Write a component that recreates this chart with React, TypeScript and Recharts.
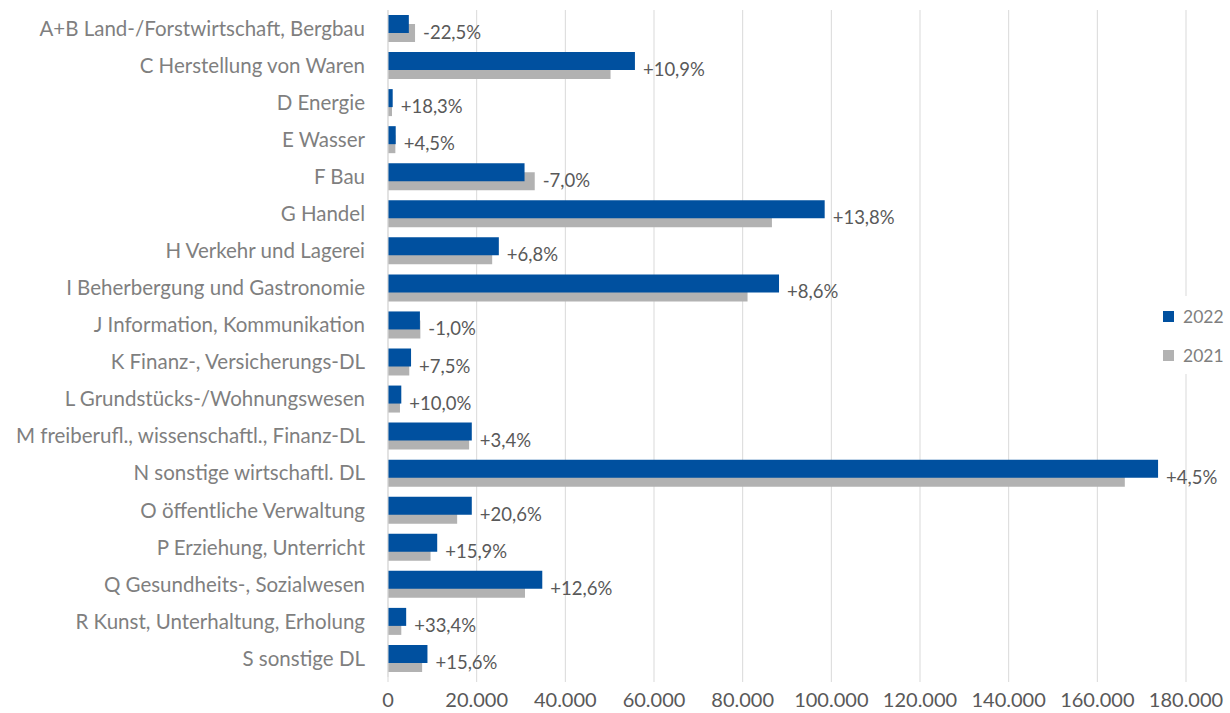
import { BarChart, Bar, XAxis, YAxis, CartesianGrid, LabelList } from 'recharts'

const categories = [
  'A+B Land-/Forstwirtschaft, Bergbau',
  'C Herstellung von Waren',
  'D Energie',
  'E Wasser',
  'F Bau',
  'G Handel',
  'H Verkehr und Lagerei',
  'I Beherbergung und Gastronomie',
  'J Information, Kommunikation',
  'K Finanz-, Versicherungs-DL',
  'L Grundstücks-/Wohnungswesen',
  'M freiberufl., wissenschaftl., Finanz-DL',
  'N sonstige wirtschaftl. DL',
  'O öffentliche Verwaltung',
  'P Erziehung, Unterricht',
  'Q Gesundheits-, Sozialwesen',
  'R Kunst, Unterhaltung, Erholung',
  'S sonstige DL',
]

const values2022 = [4700, 55700, 1060, 1740, 30800, 98500, 25000, 88200, 7200, 5200, 3000, 18900, 173700, 18900, 11100, 34800, 4100, 8900]
const values2021 = [6100, 50200, 900, 1660, 33100, 86600, 23500, 81100, 7300, 4800, 2700, 18300, 166200, 15600, 9600, 30900, 3000, 7700]
const changes = ['-22,5%', '+10,9%', '+18,3%', '+4,5%', '-7,0%', '+13,8%', '+6,8%', '+8,6%', '-1,0%', '+7,5%', '+10,0%', '+3,4%', '+4,5%', '+20,6%', '+15,9%', '+12,6%', '+33,4%', '+15,6%']

const xTicks = [0, 20000, 40000, 60000, 80000, 100000, 120000, 140000, 160000, 180000]

const data = categories.map((name, i) => ({
  name,
  v2022: values2022[i],
  v2021: values2021[i],
  change: changes[i],
}))

const BLUE = '#00509F'
const GREY = '#B2B2B2'
const FONT = 'Lato, "Open Sans", sans-serif'

function fmt(v: number) {
  return String(v).replace(/\B(?=(\d{3})+(?!\d))/g, '.')
}

// label sits after the longer of the two bars
function ChangeLabel(props: any) {
  const vb = props.viewBox ?? props
  const { x, y, width, height } = vb
  const row = data[props.index]
  if (!row) return null
  const end = x + (width * Math.max(row.v2022, row.v2021)) / row.v2022
  return (
    <text x={end + 8} y={y + height - 1} dominantBaseline="central" fill="#595959" fontSize={18.5} fontFamily={FONT}>
      {row.change}
    </text>
  )
}

export default function App() {
  return (
    <div style={{ position: 'absolute', left: 0, top: 0, width: 1230, height: 713, background: '#fff' }}>
      <BarChart
        width={1230}
        height={713}
        data={data}
        layout="vertical"
        margin={{ top: 10, right: 44, left: 0, bottom: 0 }}
        barSize={18}
        barGap={-27}
      >
        <CartesianGrid horizontal={false} stroke="#D9D9D9" />
        <XAxis
          type="number"
          domain={[0, 180000]}
          ticks={xTicks}
          tickFormatter={fmt}
          axisLine={false}
          tickLine={{ stroke: '#D9D9D9' }}
          tickSize={5}
          tickMargin={11}
          height={36}
          tick={{ fill: '#595959', fontSize: 20, fontFamily: FONT }}
        />
        <YAxis
          type="category"
          dataKey="name"
          width={388}
          interval={0}
          axisLine={{ stroke: '#D9D9D9' }}
          tickLine={false}
          tickSize={5}
          tickMargin={18}
          tick={{ fill: '#7F7F7F', fontSize: 20.5, fontFamily: FONT }}
        />
        <Bar dataKey="v2021" name="2021" fill={GREY} isAnimationActive={false} />
        <Bar dataKey="v2022" name="2022" fill={BLUE} isAnimationActive={false}>
          <LabelList dataKey="change" content={ChangeLabel} />
        </Bar>
      </BarChart>
      <div
        style={{
          position: 'absolute',
          left: 1156,
          top: 296,
          width: 74,
          height: 78,
          background: '#fff',
          fontFamily: FONT,
          fontSize: 17.5,
          color: '#7F7F7F',
        }}
      >
        {[
          { label: '2022', color: BLUE },
          { label: '2021', color: GREY },
        ].map((item, i) => (
          <div key={item.label} style={{ position: 'absolute', left: 7, top: 10 + i * 39, display: 'flex', alignItems: 'center', height: 20 }}>
            <span style={{ display: 'inline-block', width: 11, height: 11, background: item.color, marginRight: 9 }} />
            <span>{item.label}</span>
          </div>
        ))}
      </div>
    </div>
  )
}
